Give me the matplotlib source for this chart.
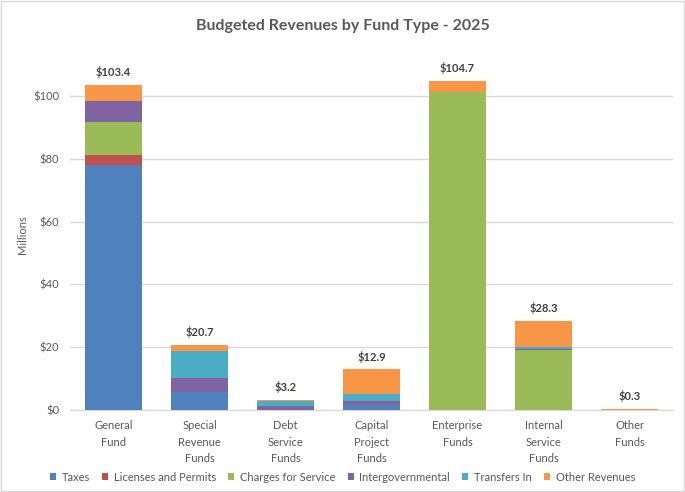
import numpy as np
import matplotlib.pyplot as plt
from matplotlib.patches import Rectangle

plt.rcParams['font.family'] = ['Lato', 'DejaVu Sans']

funds = ["General\nFund", "Special\nRevenue\nFunds", "Debt\nService\nFunds",
         "Capital\nProject\nFunds", "Enterprise\nFunds", "Internal\nService\nFunds",
         "Other\nFunds"]
totals = [103.4, 20.7, 3.2, 12.9, 104.7, 28.3, 0.3]

# revenue sources, millions of dollars per fund
taxes = [78.0, 5.6, 0.1, 1.5, 0.0, 0.0, 0.0]
licenses = [3.2, 0.0, 0.0, 0.0, 0.0, 0.0, 0.0]
charges = [10.5, 0.0, 0.0, 0.0, 101.2, 19.0, 0.0]
intergov = [6.7, 4.5, 1.1, 1.3, 0.0, 0.3, 0.0]
transfers = [0.0, 8.7, 1.8, 2.3, 0.0, 0.7, 0.0]
other = [5.0, 1.9, 0.2, 7.8, 3.5, 8.3, 0.3]

series = [("Taxes", taxes, "#4F81BD"),
          ("Licenses and Permits", licenses, "#C0504D"),
          ("Charges for Service", charges, "#9BBB59"),
          ("Intergovernmental", intergov, "#8064A2"),
          ("Transfers In", transfers, "#4BACC6"),
          ("Other Revenues", other, "#F79646")]

txt = "#595959"
fig = plt.figure(figsize=(6.85, 4.92), dpi=100)
ax = fig.add_axes([0.1029, 0.1667, 0.8789, 0.7148])

x = np.arange(len(funds))
bottom = np.zeros(len(funds))
for name, vals, col in series:
    vals = np.array(vals)
    ax.bar(x, vals, 0.66, bottom=bottom, color=col, label=name, zorder=3)
    bottom += vals

for xi, t in zip(x, totals):
    ax.text(xi, t + 2.2, "$%.1f" % t, ha="center", va="bottom",
            fontsize=8, fontweight="bold", color="#404040")

ax.set_xlim(-0.5, len(funds) - 0.5)
ax.set_ylim(0, 112)
ax.set_yticks(np.arange(0, 101, 20))
ax.set_yticklabels(["$%d" % v for v in range(0, 101, 20)], fontsize=8, color=txt)
ax.set_xticks(x)
ax.set_xticklabels(funds, fontsize=8, color=txt, linespacing=1.65)
ax.tick_params(length=0, pad=8)
ax.tick_params(axis="x", pad=7)
ax.grid(axis="y", color="#D9D9D9", linewidth=1, zorder=0)
for s in ["top", "right", "left"]:
    ax.spines[s].set_visible(False)
ax.spines["bottom"].set_color("#D9D9D9")
ax.set_ylabel("Millions", fontsize=8, color=txt, labelpad=4)

fig.text(0.5, 0.948, "Budgeted Revenues by Fund Type - 2025", ha="center",
         va="center", fontsize=11.5, fontweight="bold", color=txt)

fig.legend(loc="center", bbox_to_anchor=(0.5, 0.03), ncol=6, frameon=False,
           fontsize=8, handlelength=0.55, handleheight=0.55, handletextpad=0.5,
           columnspacing=1.1, labelcolor=txt)

fig.patches.append(Rectangle((0.002, 0.002), 0.996, 0.996, transform=fig.transFigure,
                             fill=False, edgecolor="#D9D9D9", linewidth=1))

plt.savefig("out.png", dpi=100)
